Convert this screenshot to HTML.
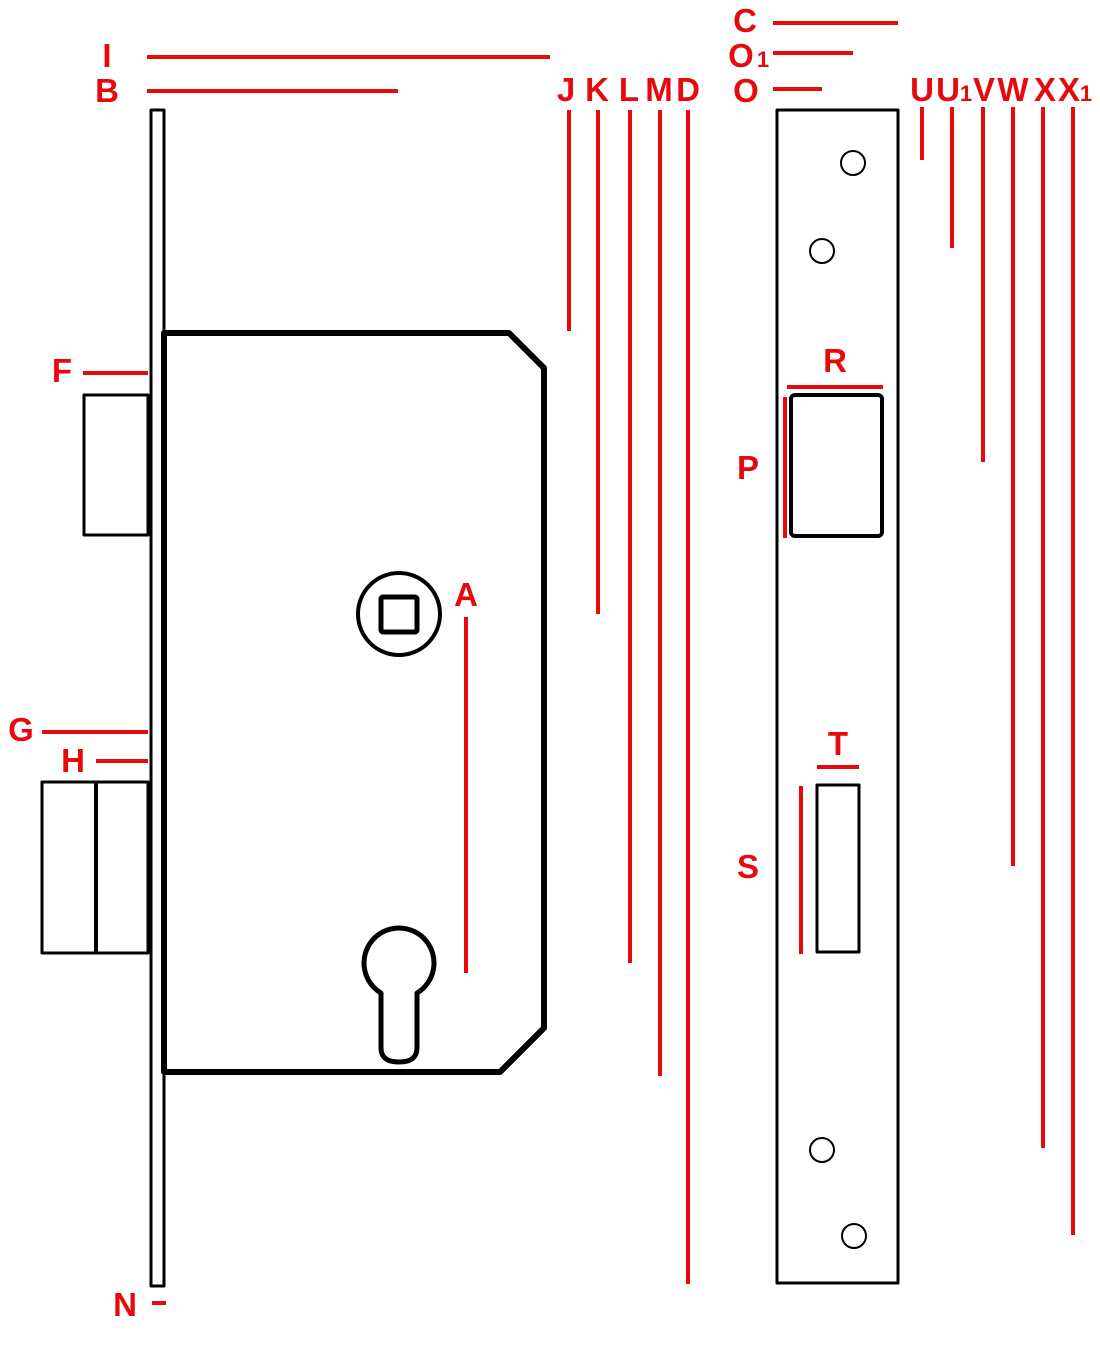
<!DOCTYPE html>
<html><head><meta charset="utf-8"><style>
html,body{margin:0;padding:0;background:#fff;}
svg{display:block;}
text{font-family:"Liberation Sans",sans-serif;font-weight:bold;fill:#e8090c;font-size:33px;text-anchor:middle;}
</style></head><body>
<svg width="1100" height="1353" viewBox="0 0 1100 1353" xmlns="http://www.w3.org/2000/svg">
<rect width="1100" height="1353" fill="#fff"/>
<g fill="none" stroke="#000" stroke-linejoin="round">
<rect x="151" y="110" width="13" height="1176" stroke-width="3"/>
<path d="M164 333 L509 333 L544 368 L544 1028 L500 1072 L164 1072 Z" stroke-width="6"/>
<rect x="84" y="395" width="64" height="140" stroke-width="3"/>
<rect x="42" y="782" width="106" height="171" stroke-width="3"/>
<line x1="96" y1="782" x2="96" y2="953" stroke-width="4"/>
<circle cx="399" cy="614" r="41" stroke-width="4"/>
<rect x="381" y="597" width="36" height="35" stroke-width="5" rx="2"/>
<path d="M381 993 A35 35 0 1 1 417 993 L417 1048 Q417 1062 399 1062 Q381 1062 381 1048 Z" stroke-width="5"/>
<rect x="777" y="110" width="121" height="1173" stroke-width="3"/>
<circle cx="853" cy="163" r="12" stroke-width="2"/>
<circle cx="822" cy="251" r="12" stroke-width="2"/>
<circle cx="822" cy="1150" r="12" stroke-width="2"/>
<circle cx="854" cy="1236" r="12" stroke-width="2"/>
<rect x="791" y="395" width="91" height="141" rx="4" stroke-width="4"/>
<rect x="817" y="785" width="42" height="167" stroke-width="3"/>
</g>
<g stroke="#e8090c" stroke-width="4">
<line x1="147" y1="57" x2="550" y2="57"/>
<line x1="147" y1="91" x2="398" y2="91"/>
<line x1="569" y1="110" x2="569" y2="331"/>
<line x1="598" y1="110" x2="598" y2="614"/>
<line x1="630" y1="110" x2="630" y2="963"/>
<line x1="660" y1="110" x2="660" y2="1076"/>
<line x1="688" y1="110" x2="688" y2="1284"/>
<line x1="773" y1="23" x2="898" y2="23"/>
<line x1="773" y1="53" x2="853" y2="53"/>
<line x1="773" y1="89" x2="822" y2="89"/>
<line x1="922" y1="107" x2="922" y2="160"/>
<line x1="952" y1="107" x2="952" y2="248"/>
<line x1="983" y1="107" x2="983" y2="462"/>
<line x1="1013" y1="107" x2="1013" y2="866"/>
<line x1="1043" y1="107" x2="1043" y2="1148"/>
<line x1="1073" y1="107" x2="1073" y2="1235"/>
<line x1="787" y1="387" x2="883" y2="387"/>
<line x1="785" y1="397" x2="785" y2="538"/>
<line x1="817" y1="767" x2="859" y2="767"/>
<line x1="801" y1="786" x2="801" y2="954"/>
<line x1="466" y1="617" x2="466" y2="973"/>
<line x1="83" y1="373" x2="148" y2="373"/>
<line x1="42" y1="732" x2="148" y2="732"/>
<line x1="96" y1="761" x2="148" y2="761"/>
<line x1="152" y1="1303" x2="166" y2="1303"/>
</g>
<text x="107" y="67">I</text>
<text x="107" y="102">B</text>
<text x="566" y="101">J</text>
<text x="597" y="101">K</text>
<text x="629" y="101">L</text>
<text x="659" y="101">M</text>
<text x="688" y="101">D</text>
<text x="745" y="32">C</text>
<text x="741" y="67">O</text><text x="763" y="67" style="font-size:22px">1</text>
<text x="746" y="102">O</text>
<text x="922" y="101">U</text>
<text x="948" y="101">U</text><text x="966" y="101" style="font-size:22px">1</text>
<text x="984" y="101">V</text>
<text x="1013" y="101">W</text>
<text x="1045" y="101">X</text>
<text x="1069" y="101">X</text><text x="1086" y="101" style="font-size:22px">1</text>
<text x="62" y="382">F</text>
<text x="21" y="741">G</text>
<text x="73" y="772">H</text>
<text x="466" y="606">A</text>
<text x="835" y="372">R</text>
<text x="748" y="479">P</text>
<text x="838" y="755">T</text>
<text x="748" y="878">S</text>
<text x="125" y="1316">N</text>
</svg>
</body></html>
